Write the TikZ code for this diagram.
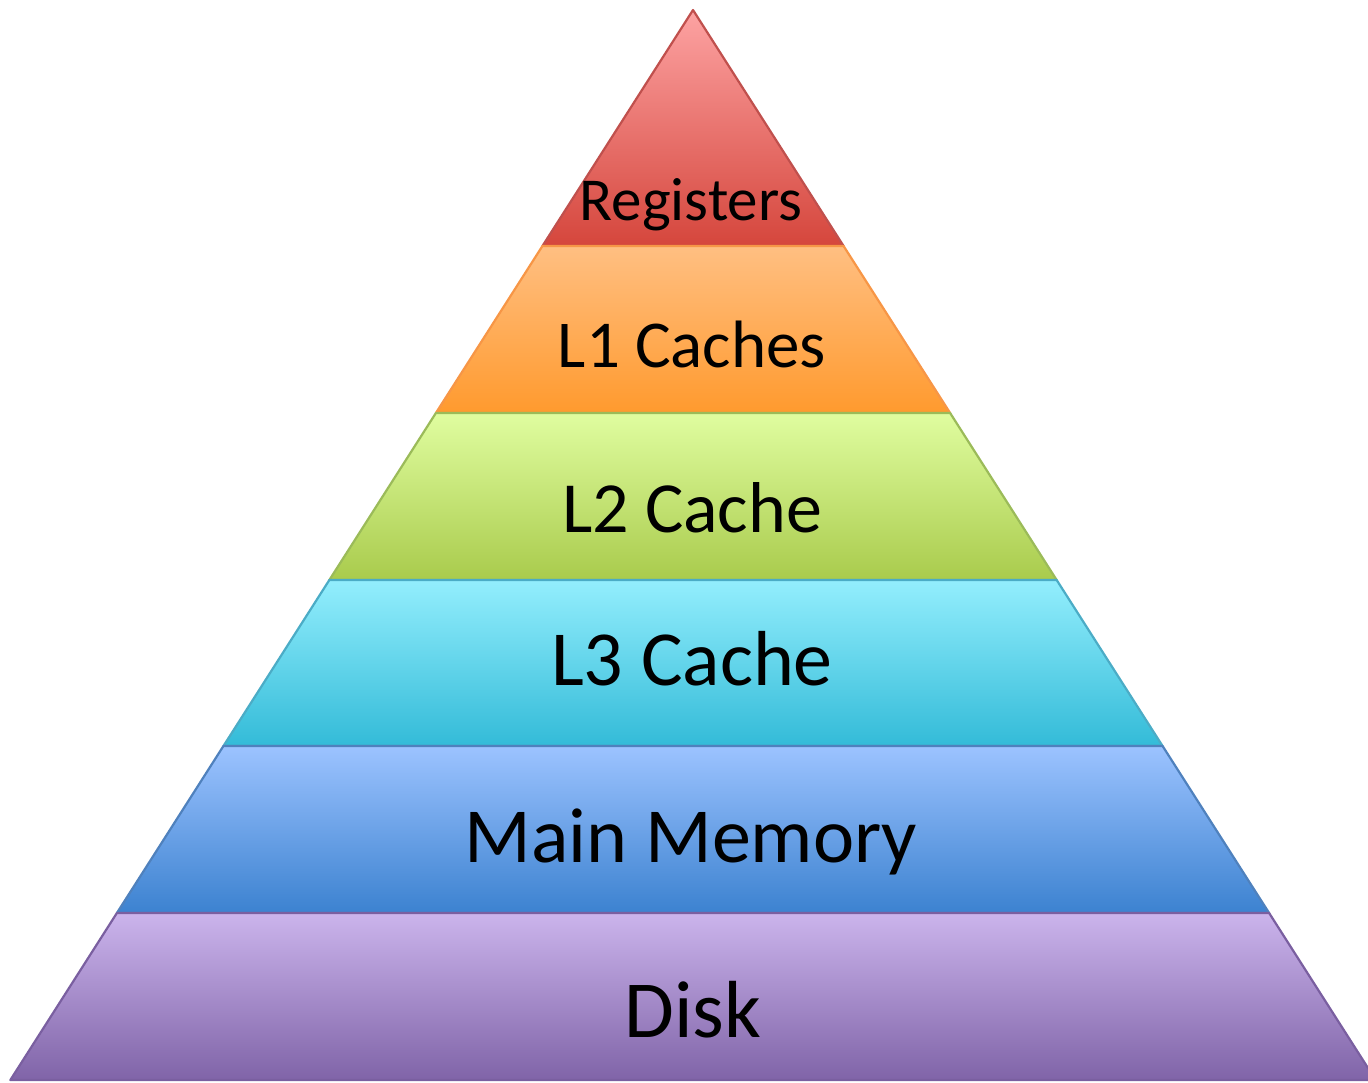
\documentclass[tikz,border=0pt]{standalone}
\usepackage{fontspec}
\setmainfont{Carlito}
\usetikzlibrary{calc}
\definecolor{regtop}{HTML}{FDA3A3}
\definecolor{regbot}{HTML}{D5463C}
\definecolor{regline}{HTML}{C0504D}
\definecolor{lonetop}{HTML}{FFBF82}
\definecolor{lonebot}{HTML}{FF9A2E}
\definecolor{loneline}{HTML}{F79646}
\definecolor{ltwotop}{HTML}{E0FDA0}
\definecolor{ltwobot}{HTML}{A9CB4C}
\definecolor{ltwoline}{HTML}{9BBB59}
\definecolor{lthreetop}{HTML}{93EEFD}
\definecolor{lthreebot}{HTML}{33BBD8}
\definecolor{lthreeline}{HTML}{4BACC6}
\definecolor{memtop}{HTML}{9CC3FF}
\definecolor{membot}{HTML}{3C82D0}
\definecolor{memline}{HTML}{4F81BD}
\definecolor{disktop}{HTML}{CBB4EC}
\definecolor{diskbot}{HTML}{8064A8}
\definecolor{diskline}{HTML}{7A5FA0}

\begin{document}
\begin{tikzpicture}[x=.5pt,y=-.5pt,layer/.style={line width=1.1pt,line join=round},
    lbl/.style={anchor=base,inner sep=0pt}]
      \useasboundingbox (0,0) rectangle (1368,1082);
      % one trapezoid per level, shaded from top to bottom
      \foreach \t/\b/\tc/\bc/\lc in {10/246/regtop/regbot/regline,246/413/lonetop/lonebot/loneline,
          413/580/ltwotop/ltwobot/ltwoline,580/746/lthreetop/lthreebot/lthreeline,
          746/913/memtop/membot/memline,913/1080/disktop/diskbot/diskline}{
        \pgfmathsetmacro\wt{0.638*(\t-10)}
        \pgfmathsetmacro\wb{0.638*(\b-10)}
        \draw[layer,top color=\tc,bottom color=\bc,draw=\lc]
          (693-\wt,\t) -- (693+\wt,\t) -- (693+\wb,\b) -- (693-\wb,\b) -- cycle;
      }
      \node[lbl,font=\fontsize{30.5}{33}\selectfont] (reg) at (691,220) {Registers};
      \node[lbl,font=\fontsize{33.5}{37}\selectfont] (lone) at (692,367) {L1 Caches};
      \node[lbl,font=\fontsize{36}{40}\selectfont] (ltwo) at (692,532) {L2 Cache};
      \node[lbl,font=\fontsize{39}{43}\selectfont] (lthree) at (692,685) {L3 Cache};
      \node[lbl,font=\fontsize{39}{43}\selectfont] (mem) at (691,862) {Main Memory};
      \node[lbl,font=\fontsize{40.5}{44}\selectfont] (disk) at (693,1037) {Disk};
    \end{tikzpicture}
\end{document}
